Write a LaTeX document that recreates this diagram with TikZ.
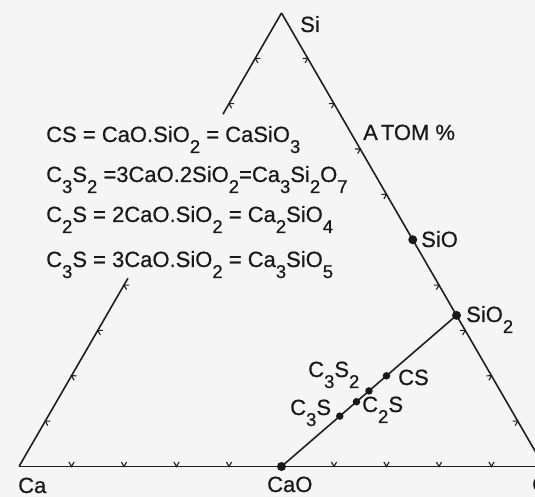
\documentclass[tikz,border=0pt]{standalone}
\usepackage{fontspec}
\setmainfont{Liberation Sans}[FakeBold=0.6]
\usetikzlibrary{calc}
\newcommand{\sbx}[1]{\raisebox{-0.5em}{\fontsize{18.5pt}{18.5pt}\selectfont #1}}
\newcommand{\tickmark}[3]{%
  \coordinate (tp) at ($(#1)!#3!(#2)$);
  \draw[tk] ($ ($(tp)!2.6pt!(#2)$)!4.5pt!90:(#2) $) -- (tp) -- ($ ($(tp)!-2.6pt!(#2)$)!4.5pt!90:(#2) $);}
\begin{document}
\begin{tikzpicture}[x=1pt,y=1pt,
  lbl/.style={anchor=base west, inner sep=0pt, font=\fontsize{22pt}{26pt}\selectfont\addfontfeature{FakeBold=0.6}, text=black!90},
  dot/.style={circle, fill=black!90, inner sep=0pt, minimum size=7.5pt},
  bigdot/.style={circle, fill=black!90, inner sep=0pt, minimum size=9pt},
  side/.style={line width=1.6pt, draw=black!88},
  tk/.style={line width=1.1pt, draw=black!88}]
\useasboundingbox (0,0) rectangle (535,497);
\fill[black!4] (0,0) rectangle (535,497);
\clip (0,0) rectangle (535,497);
% vertices
\coordinate (Ca) at (19,30.5);
\coordinate (O) at (544,30.5);
\coordinate (Si) at (281.5,484);
\coordinate (CaO) at ($(Ca)!0.5!(O)$);
\coordinate (SiO) at ($(Si)!0.5!(O)$);
\coordinate (SiO2) at ($(Si)!0.6667!(O)$);
\coordinate (CS) at (barycentric cs:Ca=1,Si=1,O=3);
\coordinate (C3S2) at (barycentric cs:Ca=3,Si=2,O=7);
\coordinate (C2S) at (barycentric cs:Ca=2,Si=1,O=4);
\coordinate (C3S) at (barycentric cs:Ca=3,Si=1,O=5);
\coordinate (Lbot) at ($(Ca)!0.415!(Si)$);
\coordinate (Ltop) at ($(Ca)!0.777!(Si)$);
% sides
\draw[side] (Ca) -- (O);
\draw[side] (O) -- (Si);
\draw[side] (Si) -- (Ltop);
\draw[side] (Lbot) -- (Ca);
\draw[side] (CaO) -- (SiO2);
% ticks
\foreach \f in {0.1,0.2,0.3,0.4,0.6,0.7,0.8,0.9} {\tickmark{Ca}{O}{\f}}
\foreach \f in {0.1,0.2,0.3,0.4,0.6,0.7,0.8,0.9} {\tickmark{O}{Si}{\f}}
\foreach \f in {0.1,0.2,0.6,0.7,0.8,0.9} {\tickmark{Si}{Ca}{\f}}
% dots
\node[bigdot] (dCaO) at (CaO) {};
\node[bigdot] (dSiO) at (SiO) {};
\node[bigdot] (dSiO2) at (SiO2) {};
\node[dot] (dCS) at (CS) {};
\node[dot] (dC3S2) at (C3S2) {};
\node[dot] (dC2S) at (C2S) {};
\node[dot] (dC3S) at (C3S) {};
% vertex and point labels
\node[lbl] (tSi) at (300,465) {Si};
\node[lbl] (tCa) at (18,4) {Ca};
\node[lbl] (tCaO) at (267,5) {CaO};
\node[lbl] (tO) at (532,5) {O};
\node[lbl] (tSiO) at (421,250) {SiO};
\node[lbl] (tSiO2) at (466,175) {SiO\sbx{2}};
\node[lbl] (tCS) at (398,112) {CS};
\node[lbl] (tC3S2) at (308,120) {C\sbx{3}S\sbx{2}};
\node[lbl] (tC2S) at (362,85) {C\sbx{2}S};
\node[lbl] (tC3S) at (290,82) {C\sbx{3}S};
\node[lbl] (tAtom) at (363,357) {A\kern3pt TOM \%};
% legend
\node[lbl] (l1) at (46,355) {CS = CaO.SiO\sbx{2} = CaSiO\sbx{3}};
\node[lbl] (l2) at (46,315) {C\sbx{3}S\sbx{2} =3CaO.2SiO\sbx{2}=Ca\sbx{3}Si\sbx{2}O\sbx{7}};
\node[lbl] (l3) at (46,275) {C\sbx{2}S = 2CaO.SiO\sbx{2} = Ca\sbx{2}SiO\sbx{4}};
\node[lbl] (l4) at (46,230) {C\sbx{3}S = 3CaO.SiO\sbx{2} = Ca\sbx{3}SiO\sbx{5}};
\end{tikzpicture}
\end{document}
